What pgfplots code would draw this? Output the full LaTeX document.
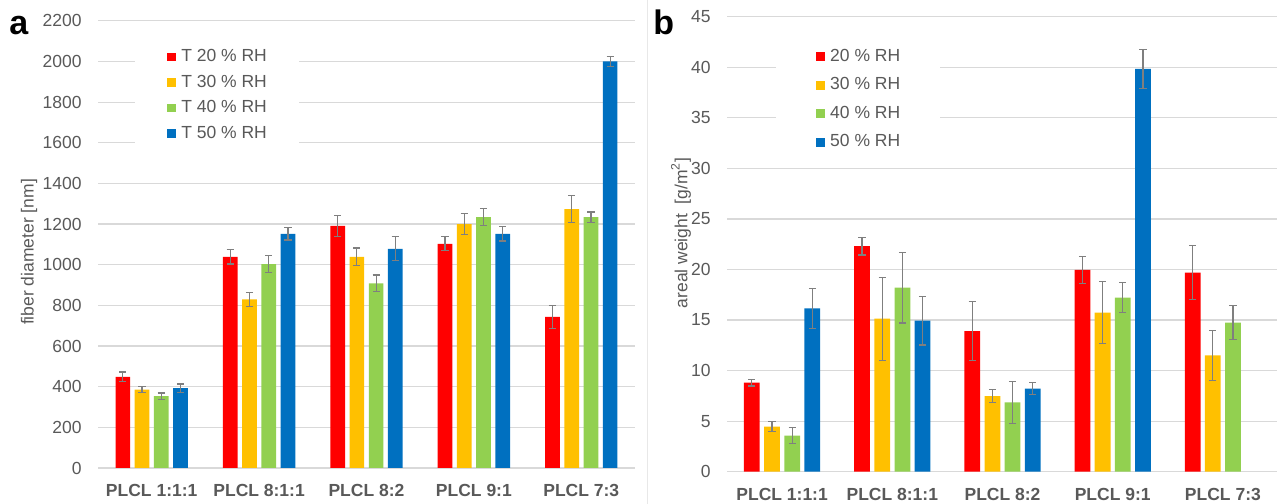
\documentclass[border=0pt]{standalone}
\usepackage{fontspec}
\setmainfont{Liberation Sans}
\usepackage{pgfplots}
\pgfplotsset{compat=1.18}
\definecolor{cRed}{HTML}{FF0000}
\definecolor{cYel}{HTML}{FFC000}
\definecolor{cGrn}{HTML}{92D050}
\definecolor{cBlu}{HTML}{0070C0}
\definecolor{txt}{HTML}{595959}
\definecolor{grd}{HTML}{D9D9D9}
\definecolor{errc}{HTML}{7F7F7F}
\newcommand{\fs}{\fontsize{8.75bp}{10bp}\selectfont}
\pgfplotsset{
 common/.style={
  scale only axis,
  axis line style={draw=none},
  ymajorgrids, grid style={grd, line width=0.6bp},
  major tick length=0pt,
  xmin=-0.5, xmax=4.5, xtick={0,1,2,3,4},
  xticklabels={PLCL 1:1:1,PLCL 8:1:1,PLCL 8:2,PLCL 9:1,PLCL 7:3},
  ymin=0,
  /pgf/number format/assume math mode=true,
  /pgf/number format/1000 sep={},
  yticklabel style={font=\fs, color=txt, anchor=east, inner sep=0pt, xshift=-8bp},
  xticklabel style={font=\bfseries\fs, color=txt, anchor=north, inner sep=0pt, yshift=-8bp},
  ylabel style={font=\fs, color=txt, anchor=center},
  ybar,
  legend style={draw=none, fill=white, font=\fs, text=txt, inner ysep=7bp, anchor=north west,
    nodes={inner sep=0pt, text height=6.5bp, text depth=1.9bp},
    /tikz/every odd column/.style={column sep=2.5bp}},
  legend cell align=left,
  legend image code/.code={\draw[##1, draw=none] (0bp,-2.2bp) rectangle (4.4bp,2.2bp);},
  error bars/y dir=both, error bars/y explicit,
  error bars/error bar style={draw=errc, line width=0.6bp},
  error bars/error mark options={rotate=90, draw=errc, line width=0.6bp, mark size=1.8bp},
 }
}
\begin{document}
\begin{tikzpicture}
\useasboundingbox (0,0) rectangle (638.5bp,252bp);
\draw[grd!60, line width=0.5bp] (323.5bp,0) -- (323.5bp,252bp);
\node[anchor=base west, inner sep=0pt, font=\bfseries\fontsize{17bp}{19bp}\selectfont] at (4.5bp,234.5bp) {a};
\node[anchor=base west, inner sep=0pt, font=\bfseries\fontsize{17bp}{19bp}\selectfont] at (326.5bp,234.5bp) {b};
\begin{axis}[common, at={(49bp,18bp)}, anchor=south west,
  width=268.5bp, height=223.6bp, ymax=2200, ytick={0,200,...,2200},
  bar width=0.137,
  ylabel={fiber diameter [nm]}, ylabel style={at={(rel axis cs:-0.1285,0.483)}},
  legend style={at={(rel axis cs:0.069,0.970)}, inner xsep=16bp, /tikz/row sep=4.35bp}]
\addplot[fill=cRed, draw=none, bar shift=-0.2685] coordinates {(0,448) +- (0,24) (1,1039) +- (0,35) (2,1191) +- (0,51) (3,1103) +- (0,34) (4,743) +- (0,56)};
\addplot[fill=cYel, draw=none, bar shift=-0.0895] coordinates {(0,385) +- (0,14) (1,830) +- (0,34) (2,1039) +- (0,43) (3,1200) +- (0,52) (4,1273) +- (0,66)};
\addplot[fill=cGrn, draw=none, bar shift=0.0895] coordinates {(0,353) +- (0,16) (1,1003) +- (0,43) (2,908) +- (0,41) (3,1234) +- (0,43) (4,1234) +- (0,25)};
\addplot[fill=cBlu, draw=none, bar shift=0.2685] coordinates {(0,393) +- (0,20) (1,1152) +- (0,30) (2,1078) +- (0,59) (3,1152) +- (0,35) (4,2000) +- (0,26)};
\legend{T 20 \% RH, T 30 \% RH, T 40 \% RH, T 50 \% RH}
\end{axis}
\begin{axis}[common, at={(363.5bp,16.15bp)}, anchor=south west,
  width=275.5bp, height=227.5bp, ymax=45, ytick={0,5,...,45},
  bar width=0.143,
  ylabel={areal weight\ \ [g/m\textsuperscript{2}]}, ylabel style={at={(rel axis cs:-0.0835,0.525)}},
  legend style={at={(rel axis cs:0.089,0.962)}, inner xsep=20bp, /tikz/row sep=5.85bp}]
\addplot[fill=cRed, draw=none, bar shift=-0.2745] coordinates {(0,8.8) +- (0,0.33) (1,22.3) +- (0,0.86) (2,13.9) +- (0,2.9) (3,19.95) +- (0,1.3) (4,19.7) +- (0,2.7)};
\addplot[fill=cYel, draw=none, bar shift=-0.0915] coordinates {(0,4.45) +- (0,0.5) (1,15.13) +- (0,4.1) (2,7.48) +- (0,0.66) (3,15.73) +- (0,3.06) (4,11.5) +- (0,2.5)};
\addplot[fill=cGrn, draw=none, bar shift=0.0915] coordinates {(0,3.56) +- (0,0.8) (1,18.2) +- (0,3.5) (2,6.86) +- (0,2.1) (3,17.21) +- (0,1.5) (4,14.74) +- (0,1.7)};
\addplot[fill=cBlu, draw=none, bar shift=0.2745] coordinates {(0,16.15) +- (0,2.0) (1,14.94) +- (0,2.4) (2,8.21) +- (0,0.6) (3,39.83) +- (0,1.9)};
\legend{20 \% RH, 30 \% RH, 40 \% RH, 50 \% RH}
\end{axis}
\end{tikzpicture}
\end{document}
